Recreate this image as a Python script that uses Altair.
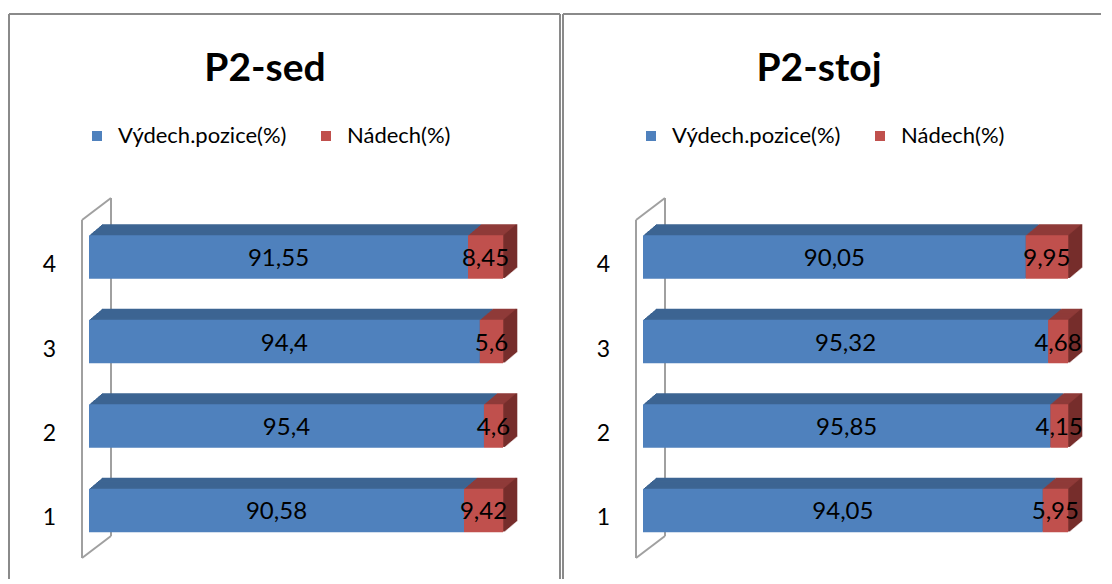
import altair as alt
import pandas as pd

# ---- data ----
categories = ["1", "2", "3", "4"]
series = ["Výdech.pozice(%)", "Nádech(%)"]
titles = ["P2-sed", "P2-stoj"]
sed_vydech = [90.58, 95.4, 94.4, 91.55]
sed_nadech = [9.42, 4.6, 5.6, 8.45]
stoj_vydech = [94.05, 95.85, 95.32, 90.05]
stoj_nadech = [5.95, 4.15, 4.68, 9.95]

FRONT = ["#4F81BD", "#C0504D"]
TOP_BLUE = "#3D6592"
TOP_RED = "#8F3B39"
SIDE_RED = "#772E2C"
BORDER = "#8a8a8a"
FONT = "Lato"
N_STEPS = 13
DEPTH_X = 13.0
DEPTH_Y = 11.0
PANEL_H = 555


def fmt(v):
    return f"{v:g}".replace(".", ",")


def make_df(vyd, nad):
    rows = []
    for c, v, n in zip(categories, vyd, nad):
        rows.append(dict(cat=c, series=series[0], start=0.0, end=v, mid=v / 2, label=fmt(v)))
        rows.append(dict(cat=c, series=series[1], start=v, end=v + n, mid=v + n / 2, label=fmt(n)))
    return pd.DataFrame(rows)


def panel(title, df, width, xrange, right_border):
    xs = alt.Scale(domain=[0, 100], range=xrange)
    ys = alt.Scale(domain=["4", "3", "2", "1"], range=[221.25, 518.25],
                   paddingInner=0.485, paddingOuter=0)
    yaxis = alt.Axis(title=None, domain=False, ticks=False, grid=False,
                     labelAlign="center", labelPadding=0, offset=-40,
                     labelOffset=8, labelFontSize=23, labelFont=FONT,
                     labelColor="#000000", labelBaseline="middle")
    Y = alt.Y("cat:N", scale=ys, axis=yaxis)
    X = alt.X("start:Q", scale=xs, axis=None)
    X2 = alt.X2("end:Q")

    base = alt.Chart(df)
    one = pd.DataFrame({"t": [title]})

    layers = []
    # panel frame (bottom, and right side of the second panel, fall outside the picture)
    frame = alt.Chart(one).mark_rule(color=BORDER, strokeWidth=2)
    layers += [
        frame.encode(x=alt.value(0), y=alt.value(0), x2=alt.value(width), y2=alt.value(0)),
        frame.encode(x=alt.value(0), y=alt.value(0), x2=alt.value(0), y2=alt.value(PANEL_H + 10)),
    ]
    if right_border:
        layers.append(frame.encode(x=alt.value(width), y=alt.value(0),
                                   x2=alt.value(width), y2=alt.value(PANEL_H + 10)))
    # wall (decorative parallelogram on the category axis)
    wall = alt.Chart(one).mark_rule(color="#a0a0a0", strokeWidth=2)
    layers += [
        wall.encode(x=alt.value(73), y=alt.value(206), x2=alt.value(73), y2=alt.value(544)),
        wall.encode(x=alt.value(102), y=alt.value(184), x2=alt.value(102), y2=alt.value(522)),
        wall.encode(x=alt.value(73), y=alt.value(206), x2=alt.value(102), y2=alt.value(184)),
        wall.encode(x=alt.value(73), y=alt.value(544), x2=alt.value(102), y2=alt.value(522)),
    ]
    topcolor = alt.condition(alt.datum.series == series[0], alt.value(TOP_BLUE), alt.value(TOP_RED))
    # extrusion (top faces)
    for k in range(N_STEPS, 0, -1):
        dx = DEPTH_X * k / N_STEPS
        dy = DEPTH_Y * k / N_STEPS
        layers.append(base.mark_bar(xOffset=dx, x2Offset=dx, yOffset=-dy).encode(
            x=X, x2=X2, y=Y, color=topcolor))
    # right side face of the last segment
    for k in range(N_STEPS, 0, -1):
        dx = DEPTH_X * k / N_STEPS
        dy = DEPTH_Y * k / N_STEPS
        layers.append(base.transform_filter(alt.datum.series == series[1]).mark_bar(
            xOffset=dx - 0.2, x2Offset=dx + 1.3, yOffset=-dy, color=SIDE_RED).encode(
            x=alt.X("end:Q", scale=xs, axis=None), x2=alt.X2("end:Q"), y=Y))
    # front faces
    layers.append(base.mark_bar().encode(
        x=X, x2=X2, y=Y,
        color=alt.Color("series:N", scale=alt.Scale(domain=series, range=FRONT),
                        legend=alt.Legend(title=None, orient="none", legendX=77, legendY=111,
                                          direction="horizontal", symbolType="square",
                                          symbolSize=100, symbolStrokeWidth=0,
                                          labelFontSize=22, labelFont=FONT, labelLimit=0,
                                          labelColor="#000000", labelOffset=10,
                                          columnPadding=28, padding=0))))
    # value labels
    layers.append(base.mark_text(font=FONT, fontSize=24, color="#000000",
                                 baseline="middle", dy=2).encode(
        x=alt.X("mid:Q", scale=xs, axis=None), y=Y, text="label:N"))
    # title
    layers.append(alt.Chart(one).mark_text(font=FONT, fontSize=39, fontWeight="bold",
                                           align="center", baseline="alphabetic",
                                           color="#000000").encode(
        text="t:N", x=alt.value(256), y=alt.value(67)))

    return alt.layer(*layers).properties(width=width, height=PANEL_H)


left = panel(titles[0], make_df(sed_vydech, sed_nadech), 551, [80, 494], True)
right = panel(titles[1], make_df(stoj_vydech, stoj_nadech), 538, [80, 505], False)

chart = (alt.hconcat(left, right, spacing=1)
         .resolve_scale(color="independent")
         .resolve_legend(color="independent")
         .properties(padding={"left": 0, "top": 5, "right": 0, "bottom": 0},
                     background="white")
         .configure_view(stroke=None))

chart.save("out.html", embed_options={"renderer": "svg", "actions": False})
